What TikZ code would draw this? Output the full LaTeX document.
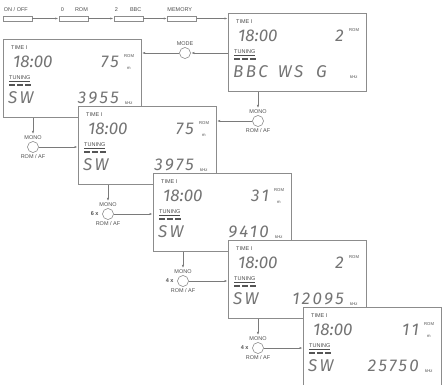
\documentclass[tikz,border=0pt]{standalone}
\usepackage{xcolor}
\usepackage{fontspec}
\setmainfont{Liberation Sans}
\newfontfamily\lcdfont{Fira Sans}
\usepackage{tikz}
\usetikzlibrary{arrows.meta, positioning, calc}

\definecolor{inkc}{HTML}{4D4D4D}
\definecolor{lcdc}{HTML}{747474}
\definecolor{barc}{HTML}{555555}
\definecolor{linec}{HTML}{7A7A7A}
\definecolor{panelc}{HTML}{8C8C8C}

% one LCD panel: name, top left corner, channel, unit, band, frequency
\newcommand{\lcdpanel}[6]{%
  \node[panel] (#1) at (#2) {};
  \node[tag, anchor=west] (#1-time) at ($(#1.north west)+(8,9)$) {TIME I};
  \node[lcd, anchor=west] (#1-clock) at ($(#1.north west)+(10,23)$) {18:00};
  \node[lcd wide, anchor=east] (#1-chan) at ($(#1.north west)+(116,23)$) {#3};
  \node[mini, anchor=west] (#1-rom) at ($(#1.north west)+(121,17)$) {ROM};
  \if\relax\detokenize{#4}\relax\else
    \node[mini, anchor=west] (#1-unit) at ($(#1.north west)+(124,29)$) {#4};
  \fi
  \node[tag, anchor=west] (#1-tune) at ($(#1.north west)+(6,40)$) {\underline{TUNING}};
  \draw[tunebar] ($(#1.north west)+(6,46)$) -- ++(22,0);
  \node[lcd wide, anchor=west] (#1-band) at ($(#1.north west)+(5,59)$) {#5};
  \if\relax\detokenize{#6}\relax\else
    \node[lcd wide, anchor=east] (#1-freq) at ($(#1.north west)+(116,59)$) {#6};
  \fi
  \node[mini, anchor=west] (#1-khz) at ($(#1.north west)+(122,64)$) {kHz};
}

\begin{document}
\begin{tikzpicture}[
    x=1pt, y=-1pt,
    panel/.style={rectangle, draw=panelc, fill=white, line width=0.6pt, minimum width=138pt, minimum height=78pt, anchor=north west, inner sep=0},
    btn/.style={rectangle, draw=panelc, fill=white, line width=0.5pt, minimum width=29pt, minimum height=5pt, inner sep=0},
    knob/.style={circle, draw=linec, fill=white, line width=0.5pt, minimum size=11pt, inner sep=0},
    lcd/.style={font=\lcdfont\itshape\fontsize{17}{17}\selectfont, text=lcdc, inner sep=0},
    lcd wide/.style={lcd, font=\lcdfont\itshape\fontsize{17}{17}\selectfont\addfontfeature{LetterSpace=14}},
    tag/.style={font=\fontsize{5.5}{6}\selectfont, text=inkc, inner sep=0},
    mini/.style={font=\fontsize{4.2}{5}\selectfont, text=inkc, inner sep=0},
    key/.style={font=\fontsize{5.5}{6}\selectfont, text=inkc, inner sep=1pt},
    count/.style={key, font=\bfseries\fontsize{5.5}{6}\selectfont},
    tunebar/.style={draw=barc, line width=1.8pt, dash pattern=on 6pt off 2pt},
    flow/.style={draw=linec, line width=0.5pt, shorten >=0.5pt, -{Latex[length=3pt,width=2.2pt]}}
]
\useasboundingbox (0,0) rectangle (442,385);

% Buttons
\node[btn] (onoff) at (17.5,18.5) {};
\node[btn] (rom0) at (73.5,18.5) {};
\node[btn] (bbc2) at (128.5,18.5) {};
\node[btn] (memory) at (182,18.5) {};
\node[key, above right=3pt and 0pt of onoff.north west] (onofflbl) {ON / OFF};
\node[key, above right=3pt and 1pt of rom0.north west] (rom0lbl) {0\hspace{11pt}ROM};
\node[key, above right=3pt and 0pt of bbc2.north west] (bbc2lbl) {2\hspace{12pt}BBC};
\node[key, above right=3pt and -1pt of memory.north west] (memorylbl) {MEMORY};

% Panels
\lcdpanel{d1}{228,13}{2}{}{BBC\hspace{10pt}WS\hspace{13pt}G}{}
\lcdpanel{d2}{3,39}{75}{m}{SW}{3955}
\lcdpanel{d3}{78,106}{75}{m}{SW}{3975}
\lcdpanel{d4}{153,173}{31}{m}{SW}{9410}
\lcdpanel{d5}{228,240}{2}{}{SW}{12095}
\lcdpanel{d6}{303,307}{11}{m}{SW}{25750}

% Knobs
\node[knob] (mode) at (185,53) {};
\node[key, above=0.5pt of mode] (modelbl) {MODE};
\node[knob] (mono1) at (258,121) {};
\node[knob] (mono2) at (33,147) {};
\node[knob] (mono3) at (108,214) {};
\node[knob] (mono4) at (183,281) {};
\node[knob] (mono5) at (258,348) {};
\foreach \k in {1,...,5} {
  \node[key, above=0.5pt of mono\k] (mono\k-top) {MONO};
  \node[key, below=0.5pt of mono\k] (mono\k-bot) {ROM / AF};
}
\node[count, left=2.5pt of mono3] (times3) {6 x};
\node[count, left=2.5pt of mono4] (times4) {4 x};
\node[count, left=2.5pt of mono5] (times5) {4 x};

% Connections
\draw[flow] (onoff) -- (rom0);
\draw[flow] (rom0) -- (bbc2);
\draw[flow] (bbc2) -- (memory);
\draw[flow] (memory) -- (memory -| d1.west);
\draw[flow] (mode -| d1.west) -- (mode);
\draw[flow] (mode) -- (mode -| d2.east);
\draw[flow] (d1.south -| mono1) -- (mono1-top);
\draw[flow] (mono1) -- (mono1 -| d3.east);
\foreach \k/\s/\d in {2/d2/d3, 3/d3/d4, 4/d4/d5, 5/d5/d6} {
  \draw[flow] (\s.south -| mono\k) -- (mono\k-top);
  \draw[flow] (mono\k) -- (mono\k -| \d.west);
}
\end{tikzpicture}
\end{document}
